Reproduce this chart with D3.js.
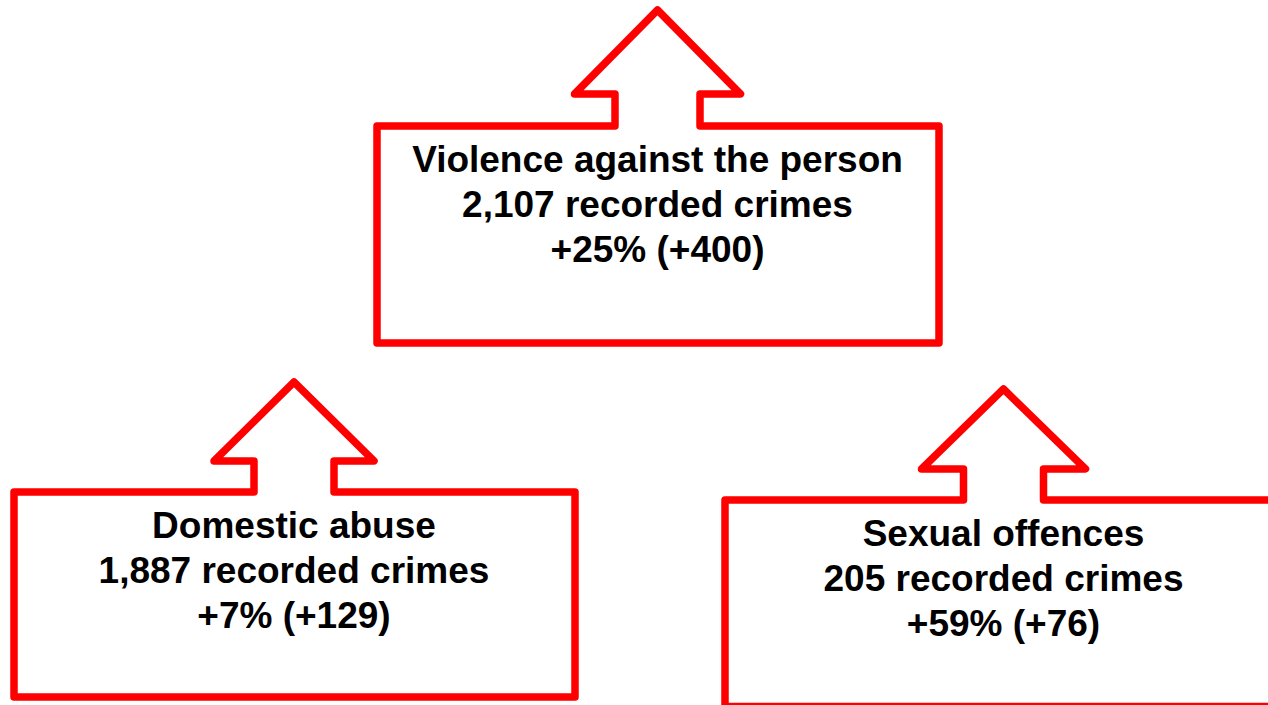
<!DOCTYPE html>
<html>
<head>
<meta charset="utf-8">
<script src="https://cdn.jsdelivr.net/npm/d3@7"></script>
<style>
 body { margin: 0; background: #fff; overflow: hidden; }
 svg { display: block; }
 text { font-family: 'Liberation Sans', Arimo, Arial, Helvetica, sans-serif; font-weight: bold; }
</style>
</head>
<body>
<div id="chart"></div>
<script>
var categories = ["Violence against the person", "Domestic abuse", "Sexual offences"];
var recorded = [2107, 1887, 205];
var pctChange = [25, 7, 59];
var absChange = [400, 129, 76];

// where each arrow callout sits on the page
var layout = [
 {cx: 657.5, tip: 10, base: 94, head: 83, stem: 42.5, x0: 377, x1: 939, y0: 126, y1: 343},
 {cx: 294, tip: 382, base: 461, head: 80, stem: 40, x0: 14, x1: 575, y0: 492, y1: 697},
 {cx: 1003.5, tip: 389, base: 469, head: 82, stem: 40, x0: 725, x1: 1300, y0: 500, y1: 706.5}
];

var W = 1268, H = 705;
var fmt = d3.format(",");
var svg = d3.select("#chart").append("svg").attr("width", W).attr("height", H);

var line = d3.line();
function arrowPts(l){
 return [[l.x0, l.y0], [l.cx - l.stem, l.y0], [l.cx - l.stem, l.base], [l.cx - l.head, l.base],
  [l.cx, l.tip], [l.cx + l.head, l.base], [l.cx + l.stem, l.base], [l.cx + l.stem, l.y0],
  [l.x1, l.y0], [l.x1, l.y1], [l.x0, l.y1], [l.x0, l.y0]];
}

var g = svg.selectAll(".callout").data(categories).enter().append("g").attr("class", "callout");
g.append("path")
 .attr("d", function(d, i){ return line(arrowPts(layout[i])) + "Z"; })
 .attr("fill", "#fff").attr("stroke", "#ff0000").attr("stroke-width", 7.5)
 .attr("stroke-linejoin", "round");

g.each(function(d, i){
 var l = layout[i];
 var lines = [d, fmt(recorded[i]) + " recorded crimes", "+" + pctChange[i] + "% (+" + absChange[i] + ")"];
 d3.select(this).selectAll("text").data(lines).enter().append("text")
  .attr("x", l.cx).attr("y", function(t, k){ return l.y0 + 46 + k * 45; })
  .attr("text-anchor", "middle")
  .style("font-size", "37px").style("fill", "#000")
  .text(function(t){ return t; });
});
</script>
</body>
</html>
